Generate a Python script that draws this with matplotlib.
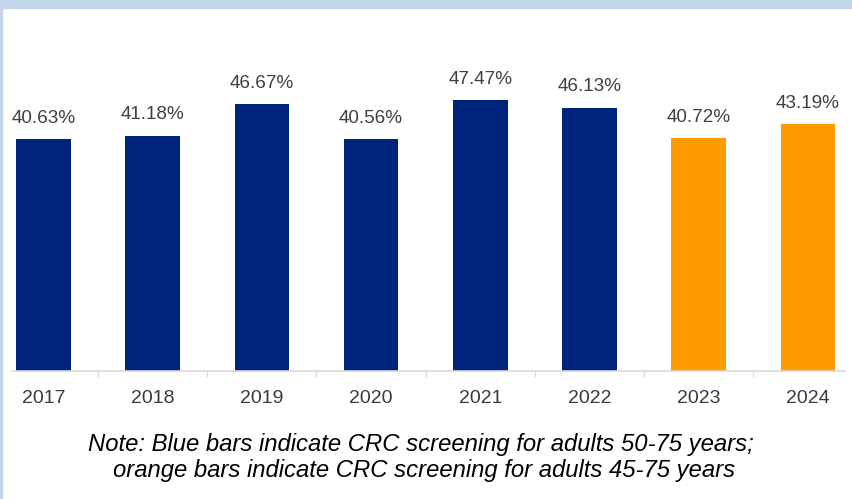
import matplotlib.pyplot as plt
from matplotlib.patches import Rectangle

# data
years = ['2017', '2018', '2019', '2020', '2021', '2022', '2023', '2024']
rates = [40.63, 41.18, 46.67, 40.56, 47.47, 46.13, 40.72, 43.19]
groups = ['50-75', '50-75', '50-75', '50-75', '50-75', '50-75', '45-75', '45-75']

group_colors = {'50-75': '#00237C', '45-75': '#FF9A00'}

plt.rcParams['font.family'] = ['Liberation Sans', 'DejaVu Sans']

W, H = 853, 499
fig = plt.figure(figsize=(W / 100, H / 100), dpi=100)

# frame bits from the screenshot
fig.patches.append(Rectangle((0, 1 - 8 / H), 1, 8 / H, transform=fig.transFigure,
                             color='#C6D6EA', zorder=0))
fig.patches.append(Rectangle((0, 0), 2 / W, 1, transform=fig.transFigure,
                             color='#C6D6EA', zorder=0))

ax = fig.add_axes([12 / W, (H - 371) / H, (845 - 12) / W, (371 - 10) / H])

x = list(range(len(years)))
colors = [group_colors[g] for g in groups]
ax.bar(x, rates, width=0.5, color=colors)

for i, v in zip(x, rates):
    ax.annotate(f'{v:.2f}%', (i, v), xytext=(0, 15), textcoords='offset points',
                ha='center', va='center', fontsize=13.6, color='#404040')

ax.set_xlim(-0.288, 7.34)
ax.set_ylim(0, 63.2)

for s in ['top', 'right', 'left']:
    ax.spines[s].set_visible(False)
ax.spines['bottom'].set_color('#D9D9D9')
ax.spines['bottom'].set_linewidth(1.2)

ax.set_yticks([])
ax.set_xticks(x)
ax.set_xticklabels(years)
ax.set_xticks([i + 0.5 for i in x[:-1]], minor=True)
ax.tick_params(axis='x', which='major', length=0, pad=14, labelsize=14,
               labelcolor='#3A3A3A')
ax.tick_params(axis='x', which='minor', length=4.5, width=1, color='#D9D9D9')

fig.text(421 / W, (H - 445) / H, 'Note: Blue bars indicate CRC screening for adults 50-75 years;',
         ha='center', va='center', fontsize=17.2, style='italic', color='black')
fig.text(424 / W, (H - 470) / H, 'orange bars indicate CRC screening for adults 45-75 years',
         ha='center', va='center', fontsize=17.2, style='italic', color='black')

fig.savefig('out.png', dpi=100)
